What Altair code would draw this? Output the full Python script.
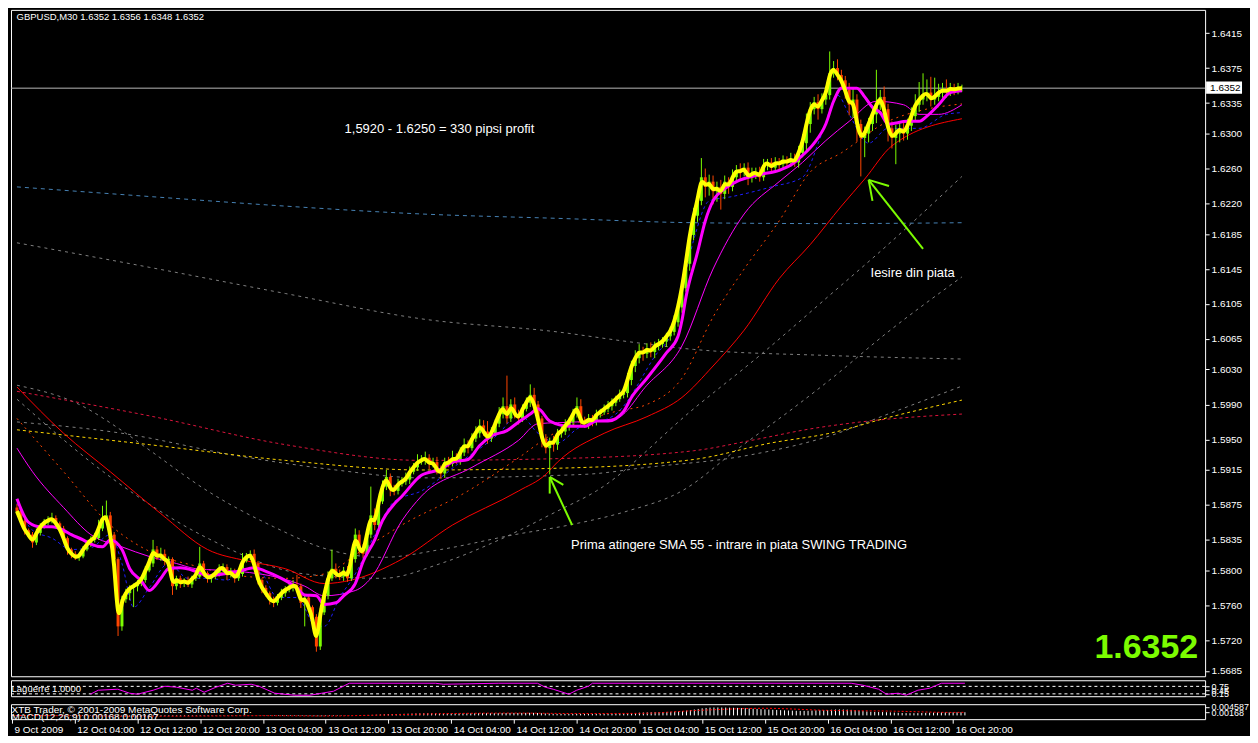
import altair as alt
import numpy as np
import pandas as pd

# ---------------- axis labels ----------------
tick_bars = [0, 16, 32, 48, 64, 80, 96, 112, 128, 144, 160, 176, 192, 208, 224, 240]
tick_labels = ["9 Oct 2009", "12 Oct 04:00", "12 Oct 12:00", "12 Oct 20:00",
               "13 Oct 04:00", "13 Oct 12:00", "13 Oct 20:00", "14 Oct 04:00",
               "14 Oct 12:00", "14 Oct 20:00", "15 Oct 04:00", "15 Oct 12:00",
               "15 Oct 20:00", "16 Oct 04:00", "16 Oct 12:00", "16 Oct 20:00"]
price_ticks = [1.6415, 1.6375, 1.6335, 1.6300, 1.6260, 1.6220, 1.6185, 1.6145, 1.6105,
               1.6065, 1.6030, 1.5990, 1.5950, 1.5915, 1.5875, 1.5835, 1.5800, 1.5760,
               1.5720, 1.5685]

# ---------------- candles (price x 10000), one per M30 bar ----------------
first_open = 15872
close_pips = [
    15868, 15857, 15846, 15841, 15832, 15843, 15850, 15855, 15857, 15860,
    15854, 15848, 15837, 15824, 15819, 15815, 15816, 15824, 15830, 15835,
    15837, 15848, 15860, 15863, 15841, 15813, 15736, 15767, 15774, 15780,
    15782, 15785, 15789, 15800, 15808, 15824, 15815, 15819, 15811, 15813,
    15782, 15791, 15785, 15789, 15784, 15791, 15793, 15808, 15797, 15791,
    15793, 15796, 15802, 15804, 15795, 15799, 15791, 15796, 15811, 15815,
    15819, 15808, 15789, 15780, 15774, 15767, 15763, 15769, 15774, 15778,
    15780, 15783, 15782, 15763, 15769, 15758, 15747, 15713, 15752, 15771,
    15791, 15802, 15796, 15793, 15800, 15791, 15813, 15841, 15824, 15819,
    15841, 15863, 15852, 15879, 15896, 15907, 15893, 15891, 15899, 15902,
    15904, 15913, 15918, 15924, 15926, 15929, 15922, 15924, 15915, 15911,
    15924, 15922, 15929, 15926, 15935, 15944, 15940, 15951, 15957, 15966,
    15959, 15951, 15957, 15968, 15979, 15988, 15974, 15990, 15979, 15974,
    15985, 15992, 16001, 15990, 15974, 15951, 15940, 15948, 15944, 15957,
    15959, 15966, 15970, 15979, 15988, 15970, 15968, 15974, 15970, 15979,
    15981, 15985, 15988, 15992, 15996, 16001, 16003, 16018, 16034, 16043,
    16051, 16048, 16054, 16050, 16057, 16059, 16062, 16068, 16073, 16084,
    16101, 16123, 16151, 16184, 16206, 16223, 16250, 16239, 16245, 16234,
    16239, 16231, 16245, 16239, 16250, 16258, 16256, 16261, 16250, 16254,
    16256, 16250, 16264, 16267, 16261, 16267, 16265, 16269, 16267, 16271,
    16267, 16278, 16289, 16311, 16328, 16336, 16328, 16339, 16344, 16369,
    16375, 16367, 16361, 16350, 16333, 16339, 16311, 16295, 16300, 16311,
    16322, 16333, 16342, 16328, 16306, 16295, 16300, 16306, 16300, 16309,
    16320, 16333, 16339, 16344, 16347, 16339, 16342, 16347, 16350, 16348,
    16352, 16350, 16352, 16352]
wick_up = [
    4, 3, 3, 2, 3, 5, 4, 4, 5, 6,
    3, 2, 3, 2, 2, 3, 3, 4, 5, 4,
    6, 10, 14, 17, 4, 3, 2, 4, 5, 3,
    3, 4, 3, 5, 6, 11, 4, 7, 5, 3,
    2, 3, 3, 2, 4, 3, 4, 19, 3, 2,
    3, 4, 5, 4, 3, 4, 3, 5, 9, 5,
    4, 5, 3, 2, 3, 2, 3, 4, 5, 4,
    5, 6, 12, 3, 4, 3, 2, 3, 5, 6,
    8, 22, 6, 5, 4, 5, 6, 7, 5, 6,
    6, 33, 8, 6, 7, 8, 4, 5, 6, 5,
    8, 6, 5, 9, 6, 7, 4, 5, 6, 5,
    5, 6, 8, 5, 6, 7, 5, 6, 8, 7,
    6, 12, 7, 5, 8, 10, 35, 6, 8, 5,
    5, 6, 12, 8, 4, 3, 5, 4, 6, 5,
    6, 7, 5, 6, 10, 8, 6, 5, 4, 5,
    4, 5, 6, 5, 4, 6, 5, 8, 6, 9,
    8, 5, 6, 7, 5, 6, 5, 4, 6, 8,
    6, 8, 10, 7, 9, 8, 22, 10, 8, 7,
    6, 8, 7, 5, 9, 6, 8, 5, 6, 7,
    5, 6, 7, 4, 5, 6, 5, 6, 5, 7,
    6, 8, 10, 12, 8, 6, 9, 7, 10, 25,
    8, 10, 6, 5, 8, 12, 6, 5, 8, 7,
    10, 40, 8, 12, 6, 8, 10, 6, 9, 8,
    10, 12, 20, 25, 15, 18, 22, 10, 8, 12,
    6, 5, 6, 4]
wick_dn = [
    3, 4, 5, 4, 6, 3, 3, 2, 3, 3,
    4, 3, 4, 6, 5, 3, 4, 2, 2, 3,
    3, 2, 3, 4, 5, 6, 11, 5, 4, 8,
    22, 6, 3, 3, 2, 4, 3, 4, 5, 4,
    10, 4, 5, 4, 3, 4, 3, 2, 4, 5,
    5, 3, 3, 4, 6, 3, 5, 3, 3, 2,
    3, 4, 5, 6, 4, 6, 5, 3, 3, 4,
    3, 4, 3, 6, 27, 5, 8, 6, 4, 3,
    4, 3, 5, 4, 5, 4, 3, 4, 6, 5,
    3, 4, 6, 5, 3, 4, 8, 5, 4, 3,
    4, 5, 3, 4, 3, 5, 6, 4, 5, 6,
    5, 4, 3, 4, 5, 4, 6, 3, 4, 5,
    5, 6, 4, 3, 4, 5, 6, 4, 5, 7,
    4, 3, 5, 6, 8, 10, 6, 30, 8, 6,
    5, 4, 6, 5, 4, 6, 5, 6, 5, 4,
    4, 3, 4, 5, 4, 3, 4, 5, 6, 7,
    6, 8, 5, 6, 7, 5, 4, 6, 5, 4,
    5, 6, 4, 8, 6, 7, 5, 12, 10, 15,
    12, 18, 6, 8, 5, 6, 8, 5, 9, 6,
    6, 5, 4, 6, 5, 4, 6, 5, 4, 5,
    5, 6, 5, 8, 10, 6, 12, 5, 6, 5,
    5, 6, 8, 10, 12, 15, 20, 44, 22, 10,
    8, 10, 6, 12, 15, 12, 30, 10, 8, 7,
    6, 5, 8, 6, 7, 8, 6, 5, 6, 7,
    5, 6, 5, 4]

# ---------------- indicator lines (bar, price x 10000) ----------------
ma_fast_bar = [0, 3, 6, 9, 12, 14, 17, 19, 22, 24, 27, 29, 32, 34, 37, 39, 42, 46, 49, 53,
               57, 61, 64, 68, 72, 74, 77, 79, 82, 84, 87, 89, 92, 94, 97, 99, 104, 109, 112, 116,
               119, 122, 126, 129, 132, 134, 137, 142, 146, 149, 152, 156, 158, 162, 167, 170, 171, 172, 175, 177,
               179, 182, 185, 191, 196, 199, 202, 205, 208, 210, 212, 216, 218, 220, 222, 224, 229, 232, 234, 237,
               240, 243]
ma_fast_pips = [15882, 15855, 15850, 15850, 15846, 15841, 15835, 15830, 15827, 15835,
                15824, 15802, 15788, 15777, 15791, 15802, 15803, 15799, 15794, 15796,
                15799, 15803, 15799, 15791, 15780, 15772, 15771, 15761, 15763, 15771,
                15785, 15810, 15835, 15857, 15876, 15885, 15909, 15916, 15924, 15927,
                15943, 15954, 15960, 15970, 15979, 15985, 15971, 15965, 15965, 15971,
                15971, 15982, 15998, 16020, 16049, 16068, 16086, 16112, 16164, 16200,
                16223, 16237, 16245, 16253, 16258, 16264, 16275, 16289, 16311, 16337,
                16352, 16352, 16342, 16330, 16324, 16311, 16314, 16314, 16320, 16333,
                16347, 16349]
ma_slow_bar = [0, 4, 12, 19, 27, 34, 41, 46, 57, 68, 74, 79, 87, 91, 99, 104, 117, 129, 134, 144,
               154, 162, 171, 179, 187, 196, 202, 208, 214, 221, 228, 232, 237, 243]
ma_slow_pips = [15940, 15913, 15872, 15841, 15827, 15816, 15808, 15802, 15799, 15791,
                15782, 15771, 15777, 15791, 15857, 15885, 15918, 15949, 15968, 15970,
                15974, 16012, 16057, 16145, 16208, 16245, 16267, 16292, 16314, 16337,
                16333, 16322, 16322, 16333]
band_bar = [0, 4, 9, 14, 19, 24, 27, 30, 34, 39, 44, 49, 54, 59, 63, 67, 72, 77, 79, 83,
            87, 92, 97, 104, 114, 124, 129, 134, 139, 144, 154, 164, 169, 174, 178, 184, 194, 202, 207, 211,
            214, 219, 224, 232, 239, 243]
band_pips = [15877, 15846, 15837, 15824, 15826, 15841, 15808, 15758, 15780, 15808,
             15791, 15791, 15789, 15802, 15796, 15769, 15769, 15736, 15736, 15769,
             15796, 15841, 15879, 15891, 15924, 15957, 15979, 15957, 15946, 15962,
             15979, 16045, 16079, 16178, 16223, 16228, 16239, 16250, 16300, 16344,
             16322, 16289, 16306, 16306, 16322, 16324]
sma55_bar = [0, 12, 24, 37, 49, 59, 69, 79, 86, 99, 112, 129, 136, 139, 151, 162, 171, 179, 187, 196,
             204, 212, 218, 225, 243]
sma55_pips = [16010, 15957, 15913, 15865, 15824, 15811, 15802, 15785, 15789, 15813,
              15852, 15891, 15910, 15924, 15957, 15976, 15998, 16034, 16075, 16134,
              16173, 16217, 16248, 16286, 16317]
ma34_bar = [0, 12, 24, 34, 46, 57, 69, 79, 89, 99, 116, 129, 137, 154, 162, 171, 179, 187, 196, 204,
            212, 224, 232, 243]
ma34_pips = [15974, 15913, 15852, 15822, 15805, 15794, 15791, 15796, 15824, 15852,
             15891, 15929, 15954, 15982, 15990, 16020, 16090, 16145, 16200, 16256,
             16278, 16314, 16326, 16334]
steel_bar = [0, 34, 69, 104, 139, 174, 209, 243]
steel_pips = [16239, 16228, 16217, 16208, 16203, 16198, 16197, 16198]
grayup_bar = [0, 34, 69, 104, 139, 157, 174, 209, 243]
grayup_pips = [16175, 16147, 16117, 16088, 16073, 16062, 16053, 16046, 16042]
crimson_bar = [0, 34, 69, 104, 139, 174, 189, 204, 219, 243]
crimson_pips = [16005, 15977, 15944, 15926, 15928, 15937, 15949, 15962, 15971, 15979]
gold_bar = [0, 34, 69, 104, 139, 174, 194, 209, 224, 243]
gold_pips = [15961, 15944, 15926, 15915, 15917, 15927, 15946, 15957, 15975, 15995]
grayc_bar = [0, 27, 57, 82, 104, 146, 162, 187, 209, 224, 243]
grayc_pips = [15970, 15957, 15931, 15915, 15906, 15910, 15918, 15931, 15954, 15979, 16011]
grayb_bar = [0, 16, 27, 34, 49, 66, 80, 94, 109, 128, 142, 157, 171, 185, 200, 209, 224, 243]
grayb_pips = [16012, 15990, 15960, 15938, 15891, 15850, 15824, 15815, 15824, 15841,
              15852, 15868, 15891, 15938, 15987, 16018, 16073, 16136]
grayd_bar = [0, 24, 49, 74, 94, 109, 124, 139, 149, 174, 191, 209, 224, 243]
grayd_pips = [15996, 15907, 15837, 15796, 15791, 15808, 15835, 15868, 15891, 15985,
              16046, 16115, 16173, 16251]

# ---------------- Laguerre panel ----------------
lag_bar = [20, 22, 27, 30, 32, 36, 39, 42, 46, 47, 49, 52, 55, 57, 61, 63, 67, 72, 76, 79,
           82, 86, 99, 108, 110, 124, 134, 136, 138, 142, 144, 147, 148, 214, 217, 221, 223, 226, 228, 231,
           234, 237, 243]
lag_val = [0.12, 0.44, 0.52, 0.2, 0.12, 0.44, 0.76, 0.68, 0.44, 0.6,
           0.28, 0.68, 1.0, 0.84, 0.92, 0.76, 0.2, 0.04, 0.04, 0.2,
           0.36, 1.0, 1.0, 1.0, 0.92, 1.0, 1.0, 0.68, 0.52, 0.12,
           0.44, 0.76, 1.0, 1.0, 0.84, 0.52, 0.12, 0.2, 0.04, 0.44,
           0.6, 1.0, 1.0]
lag_levels = [0.75, 0.15]

# ---------------- MACD panel (x 1e-5) ----------------
macd_main = [
    -10, -12, -15, -18, -20, -20, -18, -15, -12, -10,
    -10, -12, -15, -20, -25, -28, -30, -30, -28, -25,
    -22, -18, -12, -8, -10, -18, -40, -50, -58, -62,
    -65, -65, -62, -58, -52, -45, -42, -38, -36, -34,
    -36, -36, -35, -34, -34, -32, -30, -27, -26, -25,
    -24, -22, -20, -18, -18, -17, -17, -16, -13, -10,
    -8, -8, -10, -14, -18, -22, -26, -28, -30, -30,
    -30, -29, -29, -31, -32, -34, -36, -42, -44, -42,
    -36, -30, -26, -22, -18, -15, -10, -2, 4, 8,
    14, 22, 28, 36, 46, 56, 62, 68, 74, 80,
    86, 92, 98, 104, 108, 112, 112, 112, 110, 106,
    106, 104, 104, 102, 104, 106, 106, 108, 112, 118,
    118, 116, 116, 118, 122, 128, 128, 132, 132, 130,
    132, 134, 138, 136, 130, 118, 104, 96, 88, 84,
    82, 82, 82, 84, 88, 86, 84, 82, 80, 80,
    80, 82, 84, 86, 90, 94, 98, 106, 118, 130,
    144, 152, 160, 166, 172, 176, 180, 186, 192, 202,
    214, 232, 256, 286, 316, 346, 380, 400, 416, 424,
    426, 422, 420, 414, 408, 402, 394, 386, 372, 360,
    348, 334, 324, 314, 302, 292, 282, 272, 262, 254,
    246, 242, 242, 248, 258, 270, 276, 284, 290, 304,
    316, 320, 318, 310, 296, 282, 260, 232, 210, 194,
    184, 180, 178, 172, 162, 150, 140, 130, 122, 118,
    118, 122, 128, 136, 144, 150, 154, 158, 162, 164,
    166, 167, 168, 168]
sig_bar = [0, 16, 32, 48, 64, 80, 96, 112, 128, 144, 160, 176, 192, 208, 224, 240, 243]
sig_val = [-5, -20, -45, -35, -15, -30, 30, 100, 125, 100, 110, 280, 380, 270, 230, 160, 167]

# ---------------- annotations ----------------
note_text = ["1,5920 - 1.6250 = 330 pipsi profit", "Iesire din piata",
             "Prima atingere SMA 55 - intrare in piata SWING TRADING"]
note_bar = [84.25, 219.5, 142.5]
note_price = [1.6305, 1.6140, 1.5829]
arrow_bar = [142.75, 137, 137, 233, 219, 219]
arrow_pips = [15852, 15907, 15907, 16168, 16247, 16247]
arrow_bar2 = [137, 137, 140.5, 219, 220, 224.25]
arrow_pips2 = [15907, 15888, 15898, 16247, 16223, 16240]
last_price = 1.6352
header = "GBPUSD,M30  1.6352 1.6356 1.6348 1.6352"

# ================= build =================
W, H = 1197, 668
UP, DOWN, LIME = "#7CFC00", "#FF4500", "#7CFC00"
FONT = "Liberation Sans"

xs = alt.Scale(domain=[-0.25, 304.25], nice=False, zero=False)
ys = alt.Scale(domain=[1.56789, 1.64416], nice=False, zero=False)
lys = alt.Scale(domain=[-0.04, 1.24], nice=False, zero=False)
mys = alt.Scale(domain=[-0.002, 0.006], nice=False, zero=False)

axis_common = dict(labelColor="white", tickColor="white", tickSize=4, labelFont=FONT,
                   domain=False, grid=False, labelOverlap=False, title=None)
yaxis = alt.Axis(orient="right", values=price_ticks, format=".4f", labelPadding=2,
                 labelFontSize=10, **axis_common)
lag_axis = alt.Axis(orient="right", values=[0.75, 0.45, 0.15], format=".2f", labelPadding=2,
                    labelFontSize=9, **axis_common)
macd_axis = alt.Axis(orient="right", values=[0.0045, 0.00168],
                     labelExpr="datum.value > 0.003 ? '0.004587' : '0.00168'", labelPadding=2,
                     labelFontSize=9, **axis_common)
label_expr = "[" + ",".join(f"'{t}'" for t in tick_labels) + "][round(datum.value/16)]"
xaxis = alt.Axis(values=tick_bars, labelExpr=label_expr, labelAlign="left", labelPadding=1,
                 labelOffset=2, labelBound=False, labelFlush=False, labelFontSize=10, **axis_common)


def XM(f="i"):
    return alt.X(f"{f}:Q", scale=xs, axis=None)


def YM(f):
    return alt.Y(f"{f}:Q", scale=ys, axis=yaxis)


n = len(close_pips)
closes = np.array(close_pips) / 10000.0
opens = np.concatenate([[first_open / 10000.0], closes[:-1]])
highs = np.maximum(opens, closes) + np.array(wick_up) / 10000.0
lows = np.minimum(opens, closes) - np.array(wick_dn) / 10000.0
candles = pd.DataFrame({"i": np.arange(n), "o": opens, "c": closes, "h": highs, "l": lows,
                        "d": np.where(closes >= opens, "up", "down")})
cscale = alt.Scale(domain=["up", "down"], range=[UP, DOWN])


def line(bars, pips, color, width=1.0, dash=None, interp="monotone"):
    df = pd.DataFrame({"i": bars, "p": np.array(pips) / 10000.0})
    kw = dict(color=color, strokeWidth=width, interpolate=interp, clip=True)
    if dash:
        kw["strokeDash"] = dash
    return alt.Chart(df).mark_line(**kw).encode(x=XM(), y=YM("p"))


price_rule = alt.Chart(pd.DataFrame({"p": [last_price]})).mark_rule(
    color="#B8B8B8", strokeWidth=1).encode(y=YM("p"))
wicks = alt.Chart(candles).mark_rule(strokeWidth=1).encode(
    x=XM(), y=YM("l"), y2="h:Q", color=alt.Color("d:N", scale=cscale, legend=None))
bodies = alt.Chart(candles).mark_bar(size=3).encode(
    x=XM(), y=YM("o"), y2="c:Q", color=alt.Color("d:N", scale=cscale, legend=None))
yellow = alt.Chart(candles).mark_line(color="#FFFF00", strokeWidth=4, interpolate="basis").encode(
    x=XM(), y=YM("c"))

notes = alt.Chart(pd.DataFrame({"i": note_bar, "p": note_price, "t": note_text})).mark_text(
    align="left", baseline="middle", color="white", font=FONT, fontSize=13).encode(
    x=XM(), y=YM("p"), text="t:N")
head = alt.Chart(pd.DataFrame({"i": [-0.1], "p": [1.6433], "t": [header]})).mark_text(
    align="left", baseline="middle", color="white", font=FONT, fontSize=9.5).encode(
    x=XM(), y=YM("p"), text="t:N")
arrows = alt.Chart(pd.DataFrame({"i": arrow_bar, "p": np.array(arrow_pips) / 10000.0,
                                 "i2": arrow_bar2, "p2": np.array(arrow_pips2) / 10000.0})).mark_rule(
    color=LIME, strokeWidth=2).encode(x=XM(), x2="i2:Q", y=YM("p"), y2="p2:Q")
big = alt.Chart(pd.DataFrame({"i": [303.75], "p": [1.5700], "t": ["1.6352"]})).mark_text(
    align="right", baseline="alphabetic", color=LIME, font=FONT, fontSize=34, fontWeight="bold").encode(
    x=XM(), y=YM("p"), text="t:N")
pbox = alt.Chart(pd.DataFrame({"p": [1.63595], "p2": [1.63455]})).mark_rect(color="white").encode(
    x=alt.value(W + 1), x2=alt.value(W + 37), y=YM("p"), y2="p2:Q")
ptext = alt.Chart(pd.DataFrame({"p": [last_price], "t": ["1.6352"]})).mark_text(
    align="left", baseline="middle", color="black", font=FONT, fontSize=10).encode(
    x=alt.value(W + 5), y=YM("p"), text="t:N")

main = alt.layer(
    price_rule,
    line(steel_bar, steel_pips, "#4682B4", 1, [4, 4]),
    line(grayup_bar, grayup_pips, "#808080", 1, [3, 4]),
    line(grayb_bar, grayb_pips, "#808080", 1, [3, 4]),
    line(grayc_bar, grayc_pips, "#808080", 1, [3, 4]),
    line(grayd_bar, grayd_pips, "#808080", 1, [3, 4]),
    line(crimson_bar, crimson_pips, "#DC143C", 1, [3, 3]),
    line(gold_bar, gold_pips, "#FFD700", 1, [3, 3]),
    line(sma55_bar, sma55_pips, "#FF0000", 1),
    line(ma34_bar, ma34_pips, "#FF4500", 1, [2, 4]),
    line(ma_slow_bar, ma_slow_pips, "#FF00FF", 1),
    line(band_bar, band_pips, "#1E1EFF", 1, [3, 3]),
    wicks, bodies,
    line(ma_fast_bar, ma_fast_pips, "#FF00FF", 3),
    yellow,
    notes, head, arrows, big, pbox, ptext,
).properties(width=W, height=H)

# Laguerre panel
lag_lv = alt.Chart(pd.DataFrame({"v": lag_levels})).mark_rule(
    color="white", strokeDash=[3, 3], strokeWidth=1).encode(y=alt.Y("v:Q", scale=lys, axis=lag_axis))
lag_ln = alt.Chart(pd.DataFrame({"i": lag_bar, "v": lag_val})).mark_line(
    color="#FF00FF", strokeWidth=1).encode(x=XM(), y=alt.Y("v:Q", scale=lys, axis=lag_axis))
lag_tx = alt.Chart(pd.DataFrame({"i": [-0.1], "v": [0.55], "t": ["Laguerre 1.0000"]})).mark_text(
    align="left", baseline="middle", color="white", font=FONT, fontSize=9.5).encode(
    x=XM(), y=alt.Y("v:Q", scale=lys, axis=lag_axis), text="t:N")
lag = alt.layer(lag_lv, lag_ln, lag_tx).properties(width=W, height=16)

# MACD panel
XB = alt.X("i:Q", scale=xs, axis=xaxis)
mdf = pd.DataFrame({"i": np.arange(n), "m": np.array(macd_main) / 1e5, "z": 0.0})
macd_bars = alt.Chart(mdf).mark_rule(color="white", strokeWidth=1).encode(
    x=XB, y=alt.Y("m:Q", scale=mys, axis=macd_axis), y2="z:Q")
macd_sig = alt.Chart(pd.DataFrame({"i": sig_bar, "m": np.array(sig_val) / 1e5})).mark_line(
    color="#FF0000", strokeWidth=1, strokeDash=[2, 2], interpolate="monotone").encode(
    x=XB, y=alt.Y("m:Q", scale=mys, axis=macd_axis))
macd_tx = alt.Chart(pd.DataFrame({"i": [-0.1, -0.1], "m": [0.0028, -0.0006],
                                  "t": ["XTB Trader, \u00a9 2001-2009 MetaQuotes Software Corp.",
                                        "MACD(12,26,9) 0.00168 0.00167"]})).mark_text(
    align="left", baseline="middle", color="white", font=FONT, fontSize=10).encode(
    x=XB, y=alt.Y("m:Q", scale=mys, axis=macd_axis), text="t:N")
macd = alt.layer(macd_bars, macd_sig, macd_tx).properties(width=W, height=15)

chart = alt.vconcat(main, lag, macd, spacing=2).properties(
    background="#000000", padding=0
).configure_view(stroke="#FFFFFF", strokeWidth=1, fill="#000000").configure_axis(grid=False)

chart.save("out.html", embed_options={"renderer": "svg", "actions": False})
